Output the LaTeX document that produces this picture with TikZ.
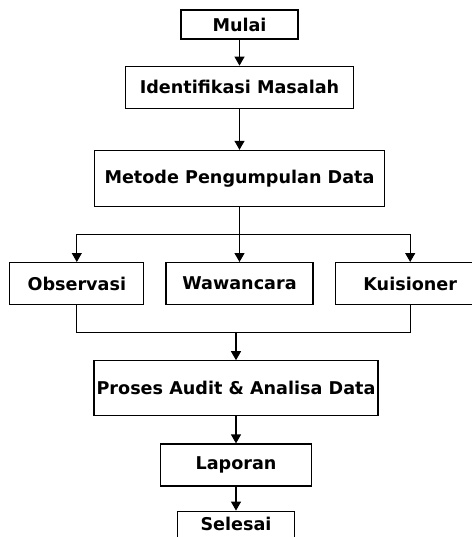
\documentclass[tikz,border=0pt]{standalone}
\usepackage{fontspec}
\setmainfont{DejaVu Sans}
\usepackage{tikz}
\usetikzlibrary{arrows.meta,positioning,calc}

\begin{document}
\begin{tikzpicture}[
  box/.style={draw,line width=1.2pt,inner sep=2pt,align=center,font=\fontsize{17.6}{20}\selectfont\bfseries},
  arrow/.style={-{Triangle[width=10pt,length=9pt]},line width=1.2pt},
  link/.style={line width=1.2pt}
]
\useasboundingbox (0,0) rectangle (471pt,-537pt);
\node[box,minimum width=117pt,minimum height=29pt] (mulai) at (239.5pt,-24.5pt) {Mulai};
\node[box,minimum width=228pt,minimum height=42pt,below=26pt of mulai] (identifikasi) {Identifikasi Masalah};
\node[box,minimum width=290pt,minimum height=56pt,below=41pt of identifikasi] (metode) {Metode Pengumpulan Data};
\node[box,minimum width=147pt,minimum height=42pt,below=55pt of metode] (wawancara) {Wawancara};
\node[box,minimum width=134pt,minimum height=42pt,left=21pt of wawancara] (observasi) {Observasi};
\node[box,minimum width=150pt,minimum height=42pt,right=21pt of wawancara] (kuisioner) {Kuisioner};
\node[box,minimum width=284pt,minimum height=55pt,below=55pt of wawancara,xshift=-3.5pt] (proses) {Proses Audit \& Analisa Data};
\node[box,minimum width=151pt,minimum height=42pt,below=27pt of proses] (laporan) {Laporan};
\node[box,minimum width=117pt,minimum height=26pt,below=24pt of laporan] (selesai) {Selesai};
% cabang dan gabungan
\coordinate (split) at ($(metode.south)!0.5!(wawancara.north)$);
\coordinate (join) at ($(proses.north)+(0,28pt)$);
\draw[arrow] (mulai) -- (identifikasi);
\draw[arrow] (identifikasi) -- (metode);
\draw[arrow] (metode) -- (wawancara);
\draw[arrow] (split) -| (observasi);
\draw[arrow] (split) -| (kuisioner);
\draw[link] (observasi) |- (join) -| (kuisioner);
\draw[arrow] (join) -- (proses);
\draw[arrow] (proses) -- (laporan);
\draw[arrow] (laporan) -- (selesai);
\end{tikzpicture}
\end{document}
